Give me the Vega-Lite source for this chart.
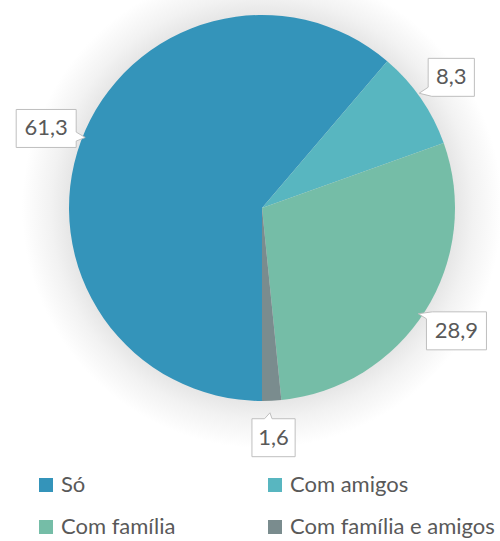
{
  "$schema": "https://vega.github.io/schema/vega-lite/v6.json",
  "width": 476,
  "height": 416,
  "autosize": {"type": "none"},
  "padding": {"left": 24, "top": 0, "right": 0, "bottom": 125},
  "background": "white",
  "config": {
    "view": {"stroke": null},
    "locale": {"number": {"decimal": ",", "thousands": ".", "grouping": [3], "currency": ["", " €"]}},
    "legend": {
      "orient": "none",
      "direction": "horizontal",
      "legendX": 11,
      "legendY": 474,
      "columns": 2,
      "columnPadding": 88,
      "rowPadding": 20,
      "symbolType": "square",
      "symbolSize": 196,
      "symbolStrokeWidth": 0,
      "labelFont": "Lato",
      "labelFontSize": 22,
      "labelColor": "#595959",
      "labelOffset": 4,
      "padding": 0,
      "labelLimit": 400
    }
  },
  "data": {
    "values": [
      {"cat": "Só", "v": 61.3, "i": 1},
      {"cat": "Com amigos", "v": 8.3, "i": 2},
      {"cat": "Com família", "v": 28.9, "i": 3},
      {"cat": "Com família e amigos", "v": 1.6, "i": 4}
    ]
  },
  "layer": [
    {
      "data": {"values": [{"shadow": 1}]},
      "mark": {
        "type": "arc",
        "theta": 0,
        "theta2": 6.2832,
        "radius": 240,
        "fill": {
          "gradient": "radial",
          "x1": 0.5, "y1": 0.5, "r1": 0,
          "x2": 0.5, "y2": 0.5, "r2": 0.5,
          "stops": [
            {"offset": 0.79, "color": "#e4e4e4"},
            {"offset": 0.88, "color": "#f2f2f2"},
            {"offset": 1, "color": "#ffffff"}
          ]
        }
      },
      "encoding": {}
    },
    {
      "mark": {"type": "arc", "radius": 193, "stroke": null},
      "encoding": {
        "theta": {"field": "v", "type": "quantitative", "stack": true, "scale": {"range": [3.141592653589793, 9.42477796076938]}},
        "order": {"field": "i", "type": "quantitative"},
        "color": {
          "field": "cat",
          "type": "nominal",
          "title": null,
          "sort": ["Só", "Com amigos", "Com família", "Com família e amigos"],
          "scale": {
            "domain": ["Só", "Com amigos", "Com família", "Com família e amigos"],
            "range": ["#3494BA", "#58B6C0", "#75BDA7", "#7A8C8E"]
          }
        }
      }
    },
    {
      "transform": [
        {"window": [{"op": "sum", "field": "v", "as": "cum"}], "sort": [{"field": "i"}], "frame": [null, 0]},
        {"joinaggregate": [{"op": "sum", "field": "v", "as": "tot"}]},
        {"calculate": "PI + 2 * PI * (datum.cum - datum.v / 2) / datum.tot", "as": "a"},
        {"calculate": "230 * sin(datum.a)", "as": "lx"},
        {"calculate": "230 * cos(datum.a)", "as": "ly"}
      ],
      "layer": [
        {
          "mark": {"type": "point", "filled": true, "fill": "white", "stroke": "#BFBFBF", "strokeWidth": 1, "size": 3600, "opacity": 1},
          "encoding": {
            "x": {"field": "lx", "type": "quantitative", "axis": null, "scale": {"domain": [-238, 238], "nice": false, "zero": false}},
            "y": {"field": "ly", "type": "quantitative", "axis": null, "scale": {"domain": [-208, 208], "nice": false, "zero": false}},
            "shape": {
              "field": "i",
              "type": "nominal",
              "legend": null,
              "scale": {
                "domain": [1, 2, 3, 4],
                "range": [
                  "M-1,-0.633H1V0.12L1.3,0.3L1,0.42V0.633H-1Z",
                  "M-0.77,-0.633H0.77V0.633H-0.65L-1.07,0.53L-0.77,0.33Z",
                  "M-1,-0.4L-1.27,-0.57L-0.8,-0.633H1V0.633H-1Z",
                  "M-0.72,-0.633H-0.3L-0.12,-0.83L-0.05,-0.633H0.72V0.633H-0.72Z"
                ]
              }
            }
          }
        },
        {
          "mark": {"type": "text", "font": "Lato", "fontSize": 22, "color": "#595959", "align": "center", "baseline": "middle"},
          "encoding": {
            "x": {"field": "lx", "type": "quantitative"},
            "y": {"field": "ly", "type": "quantitative"},
            "text": {"field": "v", "type": "quantitative", "format": ".1f"}
          }
        }
      ]
    }
  ]
}
